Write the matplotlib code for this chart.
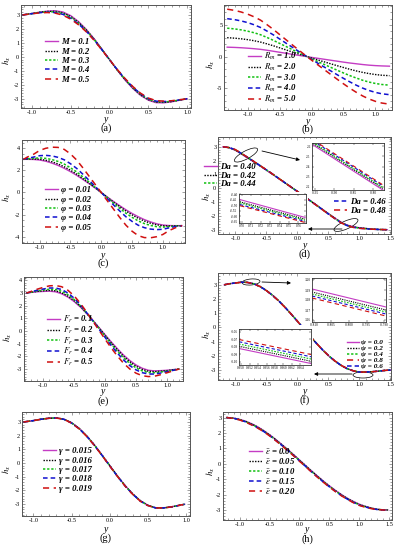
import matplotlib
matplotlib.use('Agg')
import matplotlib.pyplot as plt
from matplotlib.patches import Ellipse, Rectangle
from matplotlib.transforms import Affine2D
from matplotlib.ticker import MultipleLocator, FormatStrFormatter
from matplotlib.font_manager import FontProperties

W, H = 396, 550
plt.rcParams['font.family'] = ['Liberation Serif', 'DejaVu Serif']
plt.rcParams['mathtext.fontset'] = 'stix'

# ---------------- data ----------------
# (a) effect of M
xa = [-1.12, -1.0, -0.9, -0.8, -0.7, -0.6, -0.5, -0.4, -0.3, -0.2, -0.1, 0.0,
      0.1, 0.2, 0.3, 0.4, 0.5, 0.6, 0.7, 0.8, 0.9, 1.0]
a_M01 = [3.0, 3.1, 3.2, 3.27, 3.3, 3.21, 2.95, 2.53, 1.97, 1.31, 0.57, -0.19, -0.95, -1.65, -2.26, -2.76, -3.10, -3.28, -3.29, -3.22, -3.11, -3.0]
a_M02 = [3.0, 3.1, 3.19, 3.25, 3.26, 3.15, 2.89, 2.47, 1.93, 1.28, 0.55, -0.19, -0.94, -1.63, -2.23, -2.72, -3.06, -3.24, -3.26, -3.2, -3.1, -3.0]
a_M03 = [3.0, 3.09, 3.18, 3.22, 3.22, 3.1, 2.83, 2.42, 1.89, 1.26, 0.54, -0.2, -0.93, -1.6, -2.19, -2.68, -3.03, -3.21, -3.23, -3.18, -3.09, -3.0]
a_M04 = [3.0, 3.09, 3.16, 3.2, 3.17, 3.04, 2.76, 2.36, 1.84, 1.23, 0.52, -0.2, -0.91, -1.58, -2.16, -2.64, -2.99, -3.17, -3.2, -3.16, -3.08, -3.0]
a_M05 = [3.0, 3.08, 3.15, 3.17, 3.13, 2.98, 2.7, 2.3, 1.8, 1.2, 0.5, -0.2, -0.9, -1.55, -2.12, -2.6, -2.95, -3.13, -3.17, -3.14, -3.07, -3.0]
a_labels = ['M = 0.1', 'M = 0.2', 'M = 0.3', 'M = 0.4', 'M = 0.5']

# (b) effect of Rm
xb = [-1.32, -1.2, -1.1, -1.0, -0.9, -0.8, -0.7, -0.6, -0.5, -0.4, -0.3, -0.2, -0.1,
      0.0, 0.1, 0.2, 0.3, 0.4, 0.5, 0.6, 0.7, 0.8, 0.9, 1.0, 1.1, 1.22]
b_R1 = [1.5, 1.46, 1.41, 1.34, 1.26, 1.16, 1.02, 0.86, 0.7, 0.54, 0.37, 0.21, 0.05, -0.11, -0.26, -0.41, -0.56, -0.71, -0.86, -1.0, -1.12, -1.24, -1.34, -1.41, -1.46, -1.5]
b_R2 = [3.0, 2.92, 2.82, 2.69, 2.52, 2.31, 2.03, 1.73, 1.4, 1.07, 0.74, 0.42, 0.1, -0.22, -0.52, -0.82, -1.12, -1.42, -1.71, -1.99, -2.25, -2.48, -2.67, -2.82, -2.93, -3.0]
b_R3 = [4.5, 4.38, 4.23, 4.03, 3.78, 3.47, 3.05, 2.59, 2.1, 1.61, 1.12, 0.62, 0.14, -0.32, -0.78, -1.23, -1.68, -2.13, -2.57, -2.99, -3.37, -3.72, -4.01, -4.23, -4.39, -4.5]
b_R4 = [6.0, 5.84, 5.64, 5.38, 5.04, 4.62, 4.06, 3.46, 2.8, 2.14, 1.49, 0.83, 0.19, -0.43, -1.04, -1.64, -2.24, -2.84, -3.42, -3.98, -4.5, -4.96, -5.34, -5.64, -5.86, -6.0]
b_R5 = [7.5, 7.3, 7.05, 6.72, 6.3, 5.78, 5.08, 4.32, 3.5, 2.68, 1.86, 1.04, 0.24, -0.54, -1.3, -2.05, -2.8, -3.55, -4.28, -4.98, -5.62, -6.2, -6.68, -7.05, -7.32, -7.5]
b_labels = [r'$R_m$ = 1.0', r'$R_m$ = 2.0', r'$R_m$ = 3.0', r'$R_m$ = 4.0', r'$R_m$ = 5.0']

# (c) effect of phi
xc = [-1.26, -1.2, -1.1, -1.0, -0.9, -0.8, -0.7, -0.6, -0.5, -0.4, -0.3, -0.2, -0.1, 0.0,
      0.1, 0.2, 0.3, 0.4, 0.5, 0.6, 0.7, 0.8, 0.9, 1.0, 1.1, 1.2, 1.31]
c_p1 = [3.0, 3.0, 2.99, 2.94, 2.83, 2.66, 2.45, 2.19, 1.89, 1.56, 1.19, 0.81, 0.41, 0.0, -0.41, -0.81, -1.19, -1.56, -1.89, -2.19, -2.45, -2.66, -2.83, -2.94, -2.99, -3.0, -3.0]
c_p2 = [3.0, 3.02, 3.03, 3.01, 2.92, 2.78, 2.58, 2.33, 2.02, 1.67, 1.27, 0.87, 0.44, 0.0, -0.44, -0.87, -1.27, -1.67, -2.02, -2.33, -2.58, -2.78, -2.92, -3.01, -3.03, -3.02, -3.0]
c_p3 = [3.0, 3.04, 3.09, 3.13, 3.09, 2.98, 2.81, 2.57, 2.24, 1.87, 1.42, 0.96, 0.48, 0.0, -0.48, -0.96, -1.42, -1.87, -2.24, -2.57, -2.81, -2.98, -3.09, -3.13, -3.09, -3.04, -3.0]
c_p4 = [3.0, 3.09, 3.2, 3.33, 3.36, 3.31, 3.18, 2.96, 2.61, 2.19, 1.67, 1.12, 0.56, 0.0, -0.56, -1.12, -1.67, -2.19, -2.61, -2.96, -3.18, -3.31, -3.36, -3.33, -3.2, -3.09, -3.0]
c_p5 = [3.0, 3.2, 3.45, 3.8, 4.0, 4.1, 4.08, 3.9, 3.5, 2.95, 2.25, 1.5, 0.75, 0.0, -0.75, -1.5, -2.25, -2.95, -3.5, -3.9, -4.08, -4.1, -4.0, -3.8, -3.45, -3.2, -3.0]
c_labels = ['φ = 0.01', 'φ = 0.02', 'φ = 0.03', 'φ = 0.04', 'φ = 0.05']

# (d) effect of Da
xd = [-1.2, -1.1, -1.0, -0.9, -0.8, -0.7, -0.6, -0.5, -0.4, -0.3, -0.2, -0.1, 0.0,
      0.1, 0.2, 0.3, 0.4, 0.5, 0.6, 0.7, 0.8, 0.9, 1.0, 1.1, 1.2, 1.3, 1.45]
d_Da40 = [3.0, 2.93, 2.75, 2.47, 2.19, 1.9, 1.61, 1.31, 1.01, 0.7, 0.39, 0.08, -0.23, -0.55, -0.87, -1.19, -1.51, -1.83, -2.14, -2.44, -2.66, -2.78, -2.86, -2.91, -2.95, -2.98, -3.0]
d_Da42 = [3.0, 2.94, 2.77, 2.49, 2.21, 1.92, 1.62, 1.32, 1.02, 0.71, 0.39, 0.08, -0.23, -0.56, -0.88, -1.2, -1.52, -1.85, -2.16, -2.46, -2.68, -2.8, -2.87, -2.91, -2.96, -2.98, -3.0]
d_Da44 = [3.0, 2.94, 2.78, 2.5, 2.22, 1.92, 1.63, 1.33, 1.02, 0.71, 0.4, 0.08, -0.23, -0.56, -0.88, -1.2, -1.53, -1.85, -2.17, -2.47, -2.69, -2.81, -2.88, -2.92, -2.96, -2.98, -3.0]
d_Da46 = [3.0, 2.95, 2.79, 2.51, 2.23, 1.93, 1.64, 1.33, 1.03, 0.71, 0.4, 0.08, -0.23, -0.56, -0.88, -1.21, -1.53, -1.86, -2.17, -2.48, -2.7, -2.82, -2.89, -2.93, -2.96, -2.98, -3.0]
d_Da48 = [3.0, 2.95, 2.8, 2.52, 2.23, 1.94, 1.64, 1.34, 1.03, 0.71, 0.4, 0.08, -0.23, -0.56, -0.89, -1.21, -1.54, -1.87, -2.18, -2.49, -2.71, -2.83, -2.9, -2.93, -2.96, -2.98, -3.0]
d_labels = ['Da = 0.40', 'Da = 0.42', 'Da = 0.44', 'Da = 0.46', 'Da = 0.48']
# zoomed windows of (d)
d_in1_x = [-0.955, -0.775]
d_in1 = [[2.61, 2.17], [2.625, 2.185], [2.635, 2.195], [2.65, 2.21], [2.66, 2.22]]
d_in2_x = [0.698, 0.767]
d_in2 = [[-2.45, -2.61], [-2.47, -2.625], [-2.48, -2.635], [-2.495, -2.645], [-2.505, -2.655]]

# (e) effect of Fr
xe = [-1.27, -1.2, -1.1, -1.0, -0.9, -0.8, -0.7, -0.6, -0.5, -0.4, -0.3, -0.2, -0.1,
      0.0, 0.1, 0.2, 0.3, 0.4, 0.5, 0.6, 0.7, 0.8, 0.9, 1.0, 1.1, 1.2]
e_F1 = [3.0, 3.05, 3.1, 3.13, 3.15, 3.10, 2.94, 2.68, 2.33, 1.90, 1.40, 0.86, 0.29, -0.29, -0.86, -1.40, -1.90, -2.33, -2.68, -2.94, -3.10, -3.15, -3.13, -3.1, -3.05, -3.0]
e_F2 = [3.0, 3.06, 3.13, 3.18, 3.21, 3.18, 3.02, 2.76, 2.4, 1.95, 1.42, 0.85, 0.26, -0.34, -0.93, -1.49, -2.0, -2.43, -2.78, -3.03, -3.18, -3.21, -3.18, -3.13, -3.07, -3.0]
e_F3 = [3.0, 3.07, 3.17, 3.24, 3.3, 3.28, 3.14, 2.87, 2.49, 2.0, 1.44, 0.84, 0.22, -0.41, -1.03, -1.6, -2.13, -2.56, -2.91, -3.15, -3.28, -3.3, -3.24, -3.17, -3.09, -3.0]
e_F4 = [3.0, 3.09, 3.22, 3.32, 3.4, 3.4, 3.28, 3.0, 2.6, 2.08, 1.47, 0.82, 0.16, -0.5, -1.15, -1.75, -2.29, -2.73, -3.07, -3.29, -3.4, -3.4, -3.32, -3.22, -3.11, -3.0]
e_F5 = [3.0, 3.12, 3.3, 3.45, 3.57, 3.6, 3.5, 3.22, 2.78, 2.2, 1.52, 0.8, 0.08, -0.64, -1.34, -1.98, -2.55, -3.0, -3.33, -3.53, -3.6, -3.57, -3.45, -3.3, -3.15, -3.0]
e_labels = [r'$F_r$ = 0.1', r'$F_r$ = 0.2', r'$F_r$ = 0.3', r'$F_r$ = 0.4', r'$F_r$ = 0.5']

# (f) effect of psi
xf = [-1.18, -1.1, -1.0, -0.9, -0.8, -0.7, -0.6, -0.5, -0.4, -0.3, -0.2, -0.1, 0.0,
      0.1, 0.2, 0.3, 0.4, 0.5, 0.6, 0.7, 0.8, 0.9, 1.0, 1.1, 1.2, 1.3, 1.4, 1.5]
f_s0 = [3.0, 3.07, 3.13, 3.19, 3.17, 3.07, 2.88, 2.6, 2.26, 1.87, 1.42, 0.94, 0.44, -0.08, -0.59, -1.08, -1.55, -1.98, -2.35, -2.66, -2.9, -3.06, -3.15, -3.15, -3.12, -3.08, -3.03, -3.0]
f_s2 = [3.0, 3.07, 3.13, 3.19, 3.17, 3.07, 2.88, 2.6, 2.26, 1.87, 1.42, 0.94, 0.44, -0.08, -0.59, -1.08, -1.55, -1.98, -2.35, -2.66, -2.9, -3.06, -3.15, -3.15, -3.12, -3.08, -3.03, -3.0]
f_s4 = [3.0, 3.07, 3.13, 3.18, 3.17, 3.06, 2.87, 2.6, 2.26, 1.87, 1.42, 0.94, 0.44, -0.08, -0.59, -1.08, -1.55, -1.98, -2.35, -2.66, -2.9, -3.05, -3.14, -3.14, -3.12, -3.08, -3.03, -3.0]
f_s6 = [3.0, 3.07, 3.13, 3.18, 3.16, 3.06, 2.87, 2.59, 2.25, 1.86, 1.42, 0.94, 0.44, -0.08, -0.59, -1.08, -1.55, -1.97, -2.34, -2.65, -2.89, -3.05, -3.14, -3.14, -3.12, -3.08, -3.03, -3.0]
f_s8 = [3.0, 3.07, 3.12, 3.18, 3.16, 3.06, 2.87, 2.59, 2.25, 1.86, 1.41, 0.94, 0.44, -0.08, -0.59, -1.08, -1.55, -1.97, -2.34, -2.65, -2.89, -3.05, -3.14, -3.14, -3.12, -3.08, -3.03, -3.0]
f_labels = ['ψ = 0.0', 'ψ = 0.2', 'ψ = 0.4', 'ψ = 0.6', 'ψ = 0.8']
f_in1_x = [-0.8105, -0.7895]
f_in1 = [[3.191, 3.173], [3.188, 3.170], [3.186, 3.168], [3.184, 3.166], [3.182, 3.164]]
f_in2_x = [0.9495, 0.9665]
f_in2 = [[-3.082, -3.102], [-3.079, -3.099], [-3.076, -3.096], [-3.073, -3.093], [-3.070, -3.090]]

# (g) effect of gamma
xg = [-1.13, -1.0, -0.9, -0.8, -0.7, -0.6, -0.5, -0.4, -0.3, -0.2, -0.1, 0.0,
      0.1, 0.2, 0.3, 0.4, 0.5, 0.6, 0.7, 0.8, 0.9, 0.98]
g_1 = [3.0, 3.1, 3.2, 3.27, 3.3, 3.21, 2.95, 2.53, 1.97, 1.31, 0.57, -0.19, -0.95, -1.65, -2.26, -2.76, -3.10, -3.28, -3.29, -3.22, -3.11, -3.02]
g_2 = [3.0, 3.1, 3.2, 3.27, 3.3, 3.2, 2.94, 2.52, 1.96, 1.3, 0.56, -0.2, -0.96, -1.66, -2.27, -2.77, -3.1, -3.28, -3.29, -3.22, -3.11, -3.02]
g_3 = [3.0, 3.1, 3.2, 3.27, 3.29, 3.2, 2.93, 2.51, 1.95, 1.29, 0.55, -0.21, -0.97, -1.67, -2.28, -2.78, -3.11, -3.28, -3.29, -3.22, -3.11, -3.02]
g_4 = [3.0, 3.1, 3.2, 3.27, 3.29, 3.19, 2.92, 2.5, 1.94, 1.28, 0.54, -0.22, -0.98, -1.68, -2.29, -2.79, -3.11, -3.29, -3.29, -3.22, -3.11, -3.02]
g_5 = [3.0, 3.1, 3.2, 3.27, 3.29, 3.19, 2.91, 2.49, 1.93, 1.27, 0.53, -0.23, -0.99, -1.69, -2.3, -2.8, -3.12, -3.29, -3.29, -3.22, -3.11, -3.02]
g_labels = ['γ = 0.015', 'γ = 0.016', 'γ = 0.017', 'γ = 0.018', 'γ = 0.019']

# (h) effect of epsilon
xh = [-1.22, -1.1, -1.0, -0.9, -0.8, -0.7, -0.6, -0.5, -0.4, -0.3, -0.2, -0.1, 0.0,
      0.1, 0.2, 0.3, 0.4, 0.5, 0.6, 0.7, 0.8, 0.9, 1.0, 1.1, 1.2, 1.3, 1.4, 1.48]
h_e0 = [3.0, 2.96, 2.88, 2.76, 2.6, 2.4, 2.16, 1.89, 1.59, 1.27, 0.94, 0.6, 0.25, -0.1, -0.45, -0.79, -1.12, -1.43, -1.72, -1.99, -2.23, -2.44, -2.62, -2.76, -2.87, -2.95, -2.99, -3.0]
h_e1 = [3.0, 2.96, 2.87, 2.75, 2.58, 2.38, 2.14, 1.87, 1.57, 1.25, 0.92, 0.58, 0.23, -0.12, -0.47, -0.81, -1.14, -1.45, -1.74, -2.01, -2.25, -2.46, -2.64, -2.77, -2.88, -2.96, -2.99, -3.0]
h_e2 = [3.0, 2.95, 2.86, 2.73, 2.56, 2.36, 2.12, 1.85, 1.55, 1.23, 0.9, 0.56, 0.21, -0.14, -0.49, -0.83, -1.16, -1.47, -1.76, -2.03, -2.27, -2.48, -2.66, -2.79, -2.89, -2.96, -2.99, -3.0]
h_e3 = [3.0, 2.95, 2.85, 2.72, 2.54, 2.34, 2.1, 1.83, 1.53, 1.21, 0.88, 0.54, 0.19, -0.16, -0.51, -0.85, -1.18, -1.49, -1.78, -2.05, -2.29, -2.5, -2.68, -2.8, -2.9, -2.97, -3.0, -3.0]
h_e4 = [3.0, 2.94, 2.84, 2.7, 2.52, 2.32, 2.08, 1.81, 1.51, 1.19, 0.86, 0.52, 0.17, -0.18, -0.53, -0.87, -1.2, -1.51, -1.8, -2.07, -2.31, -2.52, -2.7, -2.82, -2.91, -2.97, -3.0, -3.0]
h_labels = [r'$\bar{\epsilon}$ = 0.0', r'$\bar{\epsilon}$ = 0.05', r'$\bar{\epsilon}$ = 0.10',
            r'$\bar{\epsilon}$ = 0.15', r'$\bar{\epsilon}$ = 0.20']

# ---------------- drawing ----------------
colors = ['#c43cc4', 'black', '#10c010', '#1010d0', '#d01010']
styles = ['-', (0, (1, 1)), (0, (1.5, 1.2)), (0, (3, 2)), (0, (4, 3))]
widths = [1.0, 1.0, 1.1, 1.1, 1.1]
lprop = FontProperties(family='Liberation Serif', style='italic', weight='bold', size=6.3)
lprop_small = FontProperties(family='Liberation Serif', style='italic', weight='bold', size=5.2)

fig = plt.figure(figsize=(W / 100, H / 100), dpi=100)


def box(l, t, r, b):
    return [l / W, 1 - b / H, (r - l) / W, (b - t) / H]


def style_axes(ax, ymaj, ymin, tsize=4.5, xfmt='%.1f', yfmt='%d', xmaj=0.5, xmin=0.1):
    ax.xaxis.set_major_locator(MultipleLocator(xmaj))
    ax.xaxis.set_minor_locator(MultipleLocator(xmin))
    ax.yaxis.set_major_locator(MultipleLocator(ymaj))
    ax.yaxis.set_minor_locator(MultipleLocator(ymin))
    ax.xaxis.set_major_formatter(FormatStrFormatter(xfmt))
    ax.yaxis.set_major_formatter(FormatStrFormatter(yfmt))
    ax.tick_params(which='both', direction='in', top=True, right=True, width=0.4,
                   labelsize=tsize, pad=1.2, color='#555555')
    ax.tick_params(which='major', length=2.5)
    ax.tick_params(which='minor', length=1.2)
    for s in ax.spines.values():
        s.set_color('#555555')
        s.set_linewidth(0.7)


def panel(rect, xlim, ylim, ymaj, ymin, x, series, tag, tag_y, ylab_xy, xlab_y):
    ax = fig.add_axes(box(*rect))
    lines = []
    for ys, c, ls, lw in zip(series, colors, styles, widths):
        ln, = ax.plot(x, ys, color=c, ls=ls, lw=lw)
        lines.append(ln)
    ax.set_xlim(*xlim)
    ax.set_ylim(*ylim)
    style_axes(ax, ymaj, ymin)
    cx = (rect[0] + rect[2]) / 2
    fig.text(cx / W, 1 - tag_y / H, tag, ha='center', va='center', fontsize=7.5)
    fig.text(cx / W, 1 - xlab_y / H, 'y', ha='center', va='center', fontsize=7, style='italic')
    fig.text(ylab_xy[0] / W, 1 - ylab_xy[1] / H, r'$h_x$', ha='center', va='center',
             fontsize=6.5, rotation=90)
    return ax, lines


def legend(ax, handles, labels, x_px, y_px, spacing=0.15, hl=1.5, prop=lprop):
    lg = ax.legend(handles, labels, loc='upper left', bbox_to_anchor=(x_px / W, 1 - y_px / H),
                   bbox_transform=fig.transFigure, frameon=False, prop=prop, handlelength=hl,
                   handletextpad=0.3, labelspacing=spacing, borderpad=0, borderaxespad=0)
    return lg


def inset(frame, white, xs, ys_list, xlim, ylim, xticks, yticks, xfmt, yfmt):
    l, t, r, b = white
    fig.patches.append(Rectangle((l / W, 1 - b / H), (r - l) / W, (b - t) / H,
                                 transform=fig.transFigure, facecolor='white',
                                 edgecolor='none', zorder=2))
    ai = fig.add_axes(box(*frame), zorder=3)
    for ys, c, ls in zip(ys_list, colors, styles):
        ai.plot(xs, ys, color=c, ls=ls, lw=0.8)
    ai.set_xlim(*xlim)
    ai.set_ylim(*ylim)
    ai.set_xticks(xticks)
    ai.set_yticks(yticks)
    ai.xaxis.set_major_formatter(FormatStrFormatter(xfmt))
    ai.yaxis.set_major_formatter(FormatStrFormatter(yfmt))
    ai.tick_params(direction='in', top=True, right=True, length=1.5, width=0.3,
                   labelsize=2.4, pad=1)
    for s in ai.spines.values():
        s.set_linewidth(0.6)
        s.set_color('#333333')
    return ai


def ellipse(ax, px, py, w, h, ang):
    e = Ellipse((0, 0), w, h, angle=ang, fill=False, ec='black', lw=0.5,
                transform=Affine2D().translate(px, H - py))
    ax.add_artist(e)


def arrow(ax, x1, y1, x2, y2):
    ax.annotate('', xy=(x2, H - y2), xycoords='figure pixels', xytext=(x1, H - y1),
                textcoords='figure pixels', annotation_clip=False,
                arrowprops=dict(arrowstyle='-|>', lw=0.6, color='black',
                                mutation_scale=5, shrinkA=0, shrinkB=0))


# (a)
ax, ln = panel((21, 5, 191, 108), (-1.14, 1.05), (-3.66, 3.71), 1, 0.2, xa,
               [a_M01, a_M02, a_M03, a_M04, a_M05], '(a)', 128, (7, 60), 120)
legend(ax, ln, a_labels, 45, 38)

# (b)
ax, ln = panel((224, 5, 392, 110), (-1.37, 1.26), (-8.42, 8.16), 5, 1, xb,
               [b_R1, b_R2, b_R3, b_R4, b_R5], '(b)', 129, (211, 64), 121)
legend(ax, ln, b_labels, 248, 51, spacing=-0.05)

# (c)
ax, ln = panel((22, 140, 185, 243), (-1.285, 1.36), (-4.57, 4.75), 2, 0.5, xc,
               [c_p1, c_p2, c_p3, c_p4, c_p5], '(c)', 263, (7, 197), 255)
legend(ax, ln, c_labels, 45, 186)

# (d)
ax, ln = panel((218, 137, 391, 234), (-1.28, 1.51), (-3.31, 3.71), 1, 0.2, xd,
               [d_Da40, d_Da42, d_Da44, d_Da46, d_Da48], '(d)', 254, (207, 196), 245)
lg1 = legend(ax, ln[:3], d_labels[:3], 204, 163, spacing=0.05)
ax.add_artist(lg1)
legend(ax, ln[3:], d_labels[3:], 334, 198, spacing=0.05)
ellipse(ax, 246, 155, 26, 8, 28)
ellipse(ax, 346, 225, 26, 8, 24)
arrow(ax, 262, 151, 300, 160)
arrow(ax, 342, 229, 308, 229)
inset((312, 143, 384, 190), (302, 139, 386, 198), d_in1_x, d_in1,
      (-0.958, -0.772), (2.17, 2.63), [-0.95, -0.90, -0.85, -0.80],
      [2.2, 2.3, 2.4, 2.5, 2.6], '%.2f', '%.1f')
inset((239, 194, 306, 223), (229, 192, 308, 231), d_in2_x, d_in2,
      (0.697, 0.768), (-2.66, -2.40), [0.70, 0.71, 0.72, 0.73, 0.74, 0.75, 0.76],
      [-2.40, -2.45, -2.50, -2.55, -2.60, -2.65], '%.2f', '%.2f')

# (e)
ax, ln = panel((24, 277, 183, 381), (-1.31, 1.26), (-3.95, 4.27), 1, 0.2, xe,
               [e_F1, e_F2, e_F3, e_F4, e_F5], '(e)', 401, (8, 337), 392)
legend(ax, ln, e_labels, 47, 314, spacing=-0.05)

# (f)
ax, ln = panel((218, 273, 391, 380), (-1.28, 1.51), (-3.7, 3.83), 1, 0.2, xf,
               [f_s0, f_s2, f_s4, f_s6, f_s8], '(f)', 400, (207, 334), 391)
order = [0, 1, 2, 4, 3]
legend(ax, [ln[i] for i in order], [f_labels[i] for i in order], 347, 339,
       spacing=0.0, hl=1.6, prop=lprop_small)
ellipse(ax, 251, 282, 18, 6, 5)
ellipse(ax, 363, 375, 20, 6, 0)
arrow(ax, 262, 282, 291, 283)
arrow(ax, 352, 374, 314, 374)
inset((312, 278, 386, 322), (302, 274, 388, 330), f_in1_x, f_in1,
      (-0.8105, -0.7895), (3.158, 3.202), [-0.810, -0.805, -0.800, -0.795, -0.790],
      [3.16, 3.17, 3.18, 3.19, 3.20], '%.3f', '%.2f')
inset((239, 329, 311, 365), (229, 325, 313, 371), f_in2_x, f_in2,
      (0.9495, 0.9665), (-3.104, -3.056), [0.950, 0.952, 0.954, 0.956, 0.958, 0.960, 0.962, 0.964],
      [-3.06, -3.07, -3.08, -3.09, -3.10], '%.3f', '%.2f')

# (g)
ax, ln = panel((22, 412, 190, 516), (-1.15, 1.05), (-3.88, 3.73), 1, 0.2, xg,
               [g_1, g_2, g_3, g_4, g_5], '(g)', 538, (7, 469), 529)
legend(ax, ln, g_labels, 43, 447)

# (h)
ax, ln = panel((223, 412, 392, 520), (-1.28, 1.55), (-3.65, 3.36), 1, 0.2, xh,
               [h_e0, h_e1, h_e2, h_e3, h_e4], '(h)', 539, (211, 471), 530)
legend(ax, ln, h_labels, 249, 446, spacing=0.0)

fig.savefig('out.png', dpi=100)
